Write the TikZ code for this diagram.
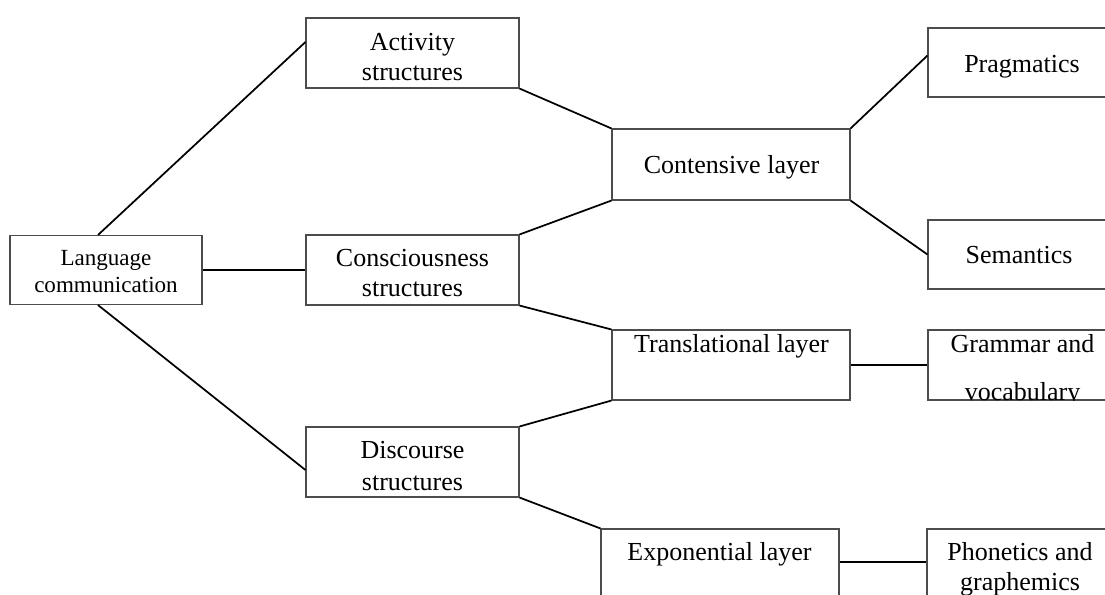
\documentclass[tikz,border=0pt]{standalone}
\usepackage{fontspec}
\setmainfont{Liberation Serif}
\usetikzlibrary{calc}
\begin{document}
\begin{tikzpicture}[x=0.75pt,y=-0.75pt,
  box/.style={draw=black!70, line width=0.8pt, inner sep=0pt, minimum width=#1},
  box/.default=159.75pt,
  txt/.style={inner sep=0pt, anchor=base, font=\fontsize{19.5}{22}\selectfont},
  smalltxt/.style={inner sep=0pt, anchor=base, font=\fontsize{17.3}{20}\selectfont},
  link/.style={draw=black, line width=1.3pt}]
\clip (0,0) rectangle (1105,594);
% boxes
\node[box=144pt, minimum height=51.75pt] (lc) at (106,270) {};
\node[box, minimum height=52.5pt] (act) at (412.5,53) {};
\node[box, minimum height=52.5pt] (con) at (412.5,270) {};
\node[box, minimum height=52.5pt] (dis) at (412.5,462) {};
\node[box=178.5pt, minimum height=53.25pt] (cont) at (731,164.5) {};
\node[box=178.5pt, minimum height=52.5pt] (trans) at (731,365) {};
\node[box=178.5pt, minimum height=52.5pt] (expo) at (720,564) {};
\node[box=141pt, minimum height=51.75pt] (prag) at (1022,62.5) {};
\node[box=141pt, minimum height=51.75pt] (sem) at (1022,254.5) {};
\node[box=141pt, minimum height=52.5pt] (gram) at (1022,365) {};
\node[box=141pt, minimum height=52.5pt] (phon) at (1021,564) {};
% texts
\node[smalltxt] (lc1) at (106,265) {Language};
\node[smalltxt] (lc2) at (106,292) {communication};
\node[txt] (act1) at (412.5,50) {Activity};
\node[txt] (act2) at (412.5,80) {structures};
\node[txt] (con1) at (412.5,266) {Consciousness};
\node[txt] (con2) at (412.5,296) {structures};
\node[txt] (dis1) at (412.5,458) {Discourse};
\node[txt] (dis2) at (412.5,490) {structures};
\node[txt] (cont1) at (731.5,173) {Contensive layer};
\node[txt] (trans1) at (731.5,352) {Translational layer};
\node[txt] (expo1) at (719.5,560) {Exponential layer};
\node[txt] (prag1) at (1022,72) {Pragmatics};
\node[txt] (sem1) at (1019,263) {Semantics};
\begin{scope}
\clip (gram.south west) rectangle (gram.north east);
\node[txt] (gram1) at (1022.5,352) {Grammar and};
\node[txt] (gram2) at (1022.5,400) {vocabulary};
\end{scope}
\node[txt] (phon1) at (1020,560) {Phonetics and};
\node[txt] (phon2) at (1020,590) {graphemics};
% connectors
\draw[link] ($(lc.north)+(-8,0)$) -- ($(act.west)+(0,-11)$);
\draw[link] (lc.east) -- (con.west);
\draw[link] ($(lc.south)+(-8,0)$) -- ($(dis.west)+(0,8)$);
\draw[link] (act.south east) -- (cont.north west);
\draw[link] (con.north east) -- (cont.south west);
\draw[link] (con.south east) -- (trans.north west);
\draw[link] (dis.north east) -- (trans.south west);
\draw[link] (dis.south east) -- (expo.north west);
\draw[link] (cont.north east) -- ($(prag.west)+(0,-7)$);
\draw[link] (cont.south east) -- (sem.west);
\draw[link] (trans.east) -- (gram.west);
\draw[link] ($(expo.east)+(0,-2)$) -- ($(phon.west)+(0,-2)$);
\end{tikzpicture}
\end{document}
